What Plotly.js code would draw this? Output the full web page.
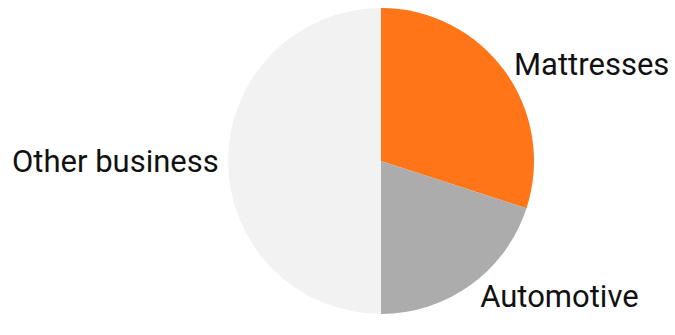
<!DOCTYPE html>
<html>
<head>
<meta charset="utf-8">
<script src="https://cdn.plot.ly/plotly-3.0.1.min.js"></script>
<style>html,body{margin:0;padding:0;background:#fff;}#chart{width:675px;height:335px;}</style>
</head>
<body>
<div id="chart"></div>
<script>
const labels = ["Mattresses", "Automotive", "Other business"];
const values = [30, 20, 50];
const colors = ["#FF7518", "#ACACAC", "#F2F2F2"];

const trace = {
  type: "pie",
  labels: labels,
  values: values,
  sort: false,
  direction: "clockwise",
  rotation: 0,
  textinfo: "label",
  textposition: "outside",
  hoverinfo: "label+percent",
  marker: { colors: colors, line: { width: 0 } },
  outsidetextfont: { family: "Roboto", size: 31, color: "#111111" },
  domain: { x: [228/675, 534/675], y: [21/335, 327/335] },
  automargin: false
};

const layout = {
  width: 675,
  height: 335,
  margin: { l: 0, r: 0, t: 0, b: 0 },
  showlegend: false,
  paper_bgcolor: "#ffffff",
  font: { family: "Roboto" }
};

Plotly.newPlot("chart", [trace], layout, { displayModeBar: false, staticPlot: true });
</script>
</body>
</html>
